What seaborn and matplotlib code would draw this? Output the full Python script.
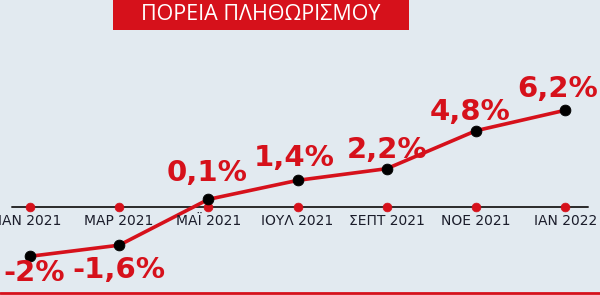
import matplotlib
matplotlib.use("Agg")
import matplotlib.pyplot as plt
import seaborn as sns
import numpy as np
import pandas as pd
from matplotlib.patches import Rectangle
from matplotlib.lines import Line2D

# ---- data ----
months = ["ΙΑΝ 2021", "ΜΑΡ 2021", "ΜΑΪ 2021", "ΙΟΥΛ 2021", "ΣΕΠΤ 2021", "ΝΟΕ 2021", "ΙΑΝ 2022"]
inflation = [-2.0, -1.6, 0.1, 1.4, 2.2, 4.8, 6.2]
labels = ["-2%", "-1,6%", "0,1%", "1,4%", "2,2%", "4,8%", "6,2%"]
title = "ΠΟΡΕΙΑ ΠΛΗΘΩΡΙΣΜΟΥ"

RED = "#d6111b"
BG = "#e2eaf0"

sns.set_theme(style="white")
plt.rcParams["font.family"] = ["DejaVu Sans"]

df = pd.DataFrame({"idx": np.arange(len(months)), "value": inflation})

fig = plt.figure(figsize=(6.0, 2.95), dpi=100, facecolor=BG)
ax = fig.add_axes([0, 0, 1, 1])
ax.set_facecolor(BG)

# infographic-style scale: negative values are stretched
NEG = 1.9
def fwd(v):
    v = np.asarray(v, dtype=float)
    return np.where(v >= 0, v, NEG * v)
def inv(v):
    v = np.asarray(v, dtype=float)
    return np.where(v >= 0, v, v / NEG)
ax.set_yscale("function", functions=(fwd, inv))

sns.lineplot(data=df, x="idx", y="value", ax=ax, color=RED, linewidth=2.6,
             zorder=3, legend=False)
sns.scatterplot(data=df, x="idx", y="value", ax=ax, color="black", s=60,
                edgecolor="black", zorder=4, legend=False)

# baseline axis with red dots at each month
base = -0.224
ax.plot([-0.2, 6.26], [base, base], color="#2a2a2a", linewidth=1.4, zorder=2)
sns.scatterplot(x=df["idx"], y=[base] * len(df), ax=ax, color=RED, s=40,
                edgecolor=RED, zorder=2.5, legend=False)
for i, m in enumerate(months):
    ax.annotate(m, (i, base), xytext=(0, -14), textcoords="offset pixels",
                ha="center", va="center", fontsize=10, color="#1b1d2b")

# value labels
offsets = [(4, -17), (0, -25), (-1, 26), (-3, 22), (0, 19), (-6, 19), (-8, 21)]
for i, (v, lab) in enumerate(zip(inflation, labels)):
    dx, dy = offsets[i]
    ax.annotate(lab, (i, v), xytext=(dx, dy), textcoords="offset pixels",
                ha="center", va="center", fontsize=21, fontweight="bold",
                color=RED, zorder=5)

ax.set_xlim(-0.336, 6.39)
ax.set_ylim(-3.395, 13.75)
ax.set_xlabel("")
ax.set_ylabel("")
ax.set_xticks([])
ax.set_yticks([])
for s in ax.spines.values():
    s.set_visible(False)

# title box
fig.patches.append(Rectangle((113 / 600, 1 - 30 / 295), 296 / 600, 30 / 295,
                             transform=fig.transFigure, facecolor=RED,
                             edgecolor="none", zorder=10))
fig.text(261 / 600, 1 - 15 / 295, title, ha="center", va="center",
         color="white", fontsize=15.5, family=["Open Sans", "DejaVu Sans"], zorder=11)

# bottom red rule
fig.lines.append(Line2D([0, 1], [1 - 293 / 295] * 2, transform=fig.transFigure,
                        color=RED, linewidth=2))

fig.savefig("out.png", dpi=100, facecolor=BG)
